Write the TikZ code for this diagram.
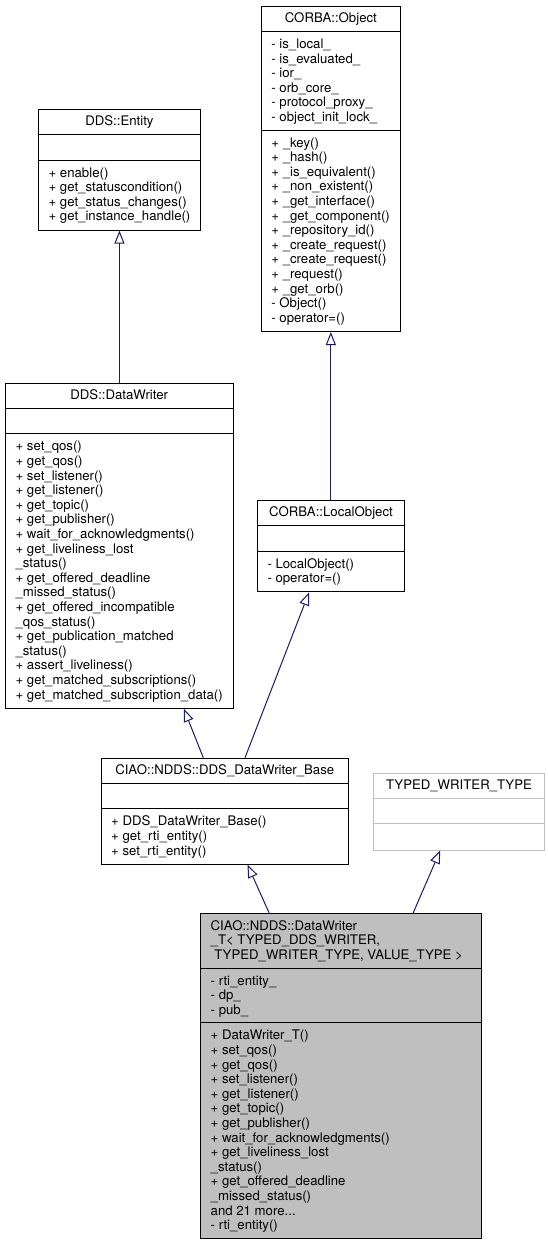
\documentclass[tikz,border=0pt]{standalone}
\usepackage{fontspec}
\setmainfont{TeX Gyre Heros}
\usetikzlibrary{arrows.meta,calc}
\definecolor{edgeblue}{HTML}{191970}
\definecolor{grey75}{HTML}{BFBFBF}
\tikzset{
	classbox/.style={draw, line width=1pt, inner sep=0pt, anchor=north west},
	classname/.style={anchor=base, inner sep=0pt},
	members/.style={anchor=north west, align=left, inner sep=0pt},
	fieldsep/.style={line width=1pt},
	inherit/.style={edgeblue, line width=1pt, -{Triangle[length=13pt,width=10pt,fill=white]}},
}
\newcommand{\fieldline}[3][black]{\draw[fieldsep, #1] ([yshift=-#3pt]#2.north west) -- ([yshift=-#3pt]#2.north east);}

\begin{document}
\begin{tikzpicture}[x=1pt, y=-1pt, font=\fontsize{13.2}{14.6}\selectfont]
		\useasboundingbox (0,0) rectangle (548,1245);

		% CORBA::Object
		\node[classbox, minimum width=139.3pt, minimum height=325pt] (obj) at (260.7,6) {};
		\fieldline{obj}{25.6}
		\fieldline{obj}{124.2}
		\node[classname] (obj-name) at ([yshift=-16.7pt]obj.north) {CORBA::Object};
		\node[members] (obj-attr) at ([xshift=10.5pt,yshift=-32.08pt]obj.north west)
			{\strut- is\_local\_\\- is\_evaluated\_\\- ior\_\\- orb\_core\_\\- protocol\_proxy\_\\- object\_init\_lock\_};
		\node[members] (obj-meth) at ([xshift=10.5pt,yshift=-130.68pt]obj.north west)
			{\strut+ \_key()\\+ \_hash()\\+ \_is\_equivalent()\\+ \_non\_existent()\\+ \_get\_interface()\\+ \_get\_component()\\+ \_repository\_id()\\+ \_create\_request()\\+ \_create\_request()\\+ \_request()\\+ \_get\_orb()\\- Object()\\- operator=()};

		% DDS::Entity
		\node[classbox, minimum width=162.1pt, minimum height=120.6pt] (ent) at (37.9,109) {};
		\fieldline{ent}{25.6}
		\fieldline{ent}{51.2}
		\node[classname] (ent-name) at ([yshift=-16.7pt]ent.north) {DDS::Entity};
		\node[members] (ent-meth) at ([xshift=10.5pt,yshift=-57.68pt]ent.north west)
			{\strut+ enable()\\+ get\_statuscondition()\\+ get\_status\_changes()\\+ get\_instance\_handle()};

		% DDS::DataWriter
		\node[classbox, minimum width=227.7pt, minimum height=325pt] (dw) at (4.9,382.7) {};
		\fieldline{dw}{25.6}
		\fieldline{dw}{51.2}
		\node[classname] (dw-name) at ([yshift=-16.7pt]dw.north) {DDS::DataWriter};
		\node[members] (dw-meth) at ([xshift=10.5pt,yshift=-57.68pt]dw.north west)
			{\strut+ set\_qos()\\+ get\_qos()\\+ set\_listener()\\+ get\_listener()\\+ get\_topic()\\+ get\_publisher()\\+ wait\_for\_acknowledgments()\\+ get\_liveliness\_lost\\\_status()\\+ get\_offered\_deadline\\\_missed\_status()\\+ get\_offered\_incompatible\\\_qos\_status()\\+ get\_publication\_matched\\\_status()\\+ assert\_liveliness()\\+ get\_matched\_subscriptions()\\+ get\_matched\_subscription\_data()};

		% CORBA::LocalObject
		\node[classbox, minimum width=147.4pt, minimum height=91.4pt] (lobj) at (256.8,500) {};
		\fieldline{lobj}{25.6}
		\fieldline{lobj}{51.2}
		\node[classname] (lobj-name) at ([yshift=-16.7pt]lobj.north) {CORBA::LocalObject};
		\node[members] (lobj-meth) at ([xshift=10.5pt,yshift=-57.68pt]lobj.north west)
			{\strut- LocalObject()\\- operator=()};

		% CIAO::NDDS::DDS_DataWriter_Base
		\node[classbox, minimum width=247.5pt, minimum height=106pt] (base) at (100.5,757.7) {};
		\fieldline{base}{25.6}
		\fieldline{base}{51.2}
		\node[classname] (base-name) at ([yshift=-16.7pt]base.north) {CIAO::NDDS::DDS\_DataWriter\_Base};
		\node[members] (base-meth) at ([xshift=10.5pt,yshift=-57.68pt]base.north west)
			{\strut+ DDS\_DataWriter\_Base()\\+ get\_rti\_entity()\\+ set\_rti\_entity()};

		% TYPED_WRITER_TYPE
		\node[classbox, draw=grey75, minimum width=171pt, minimum height=76.8pt] (twt) at (373,772.7) {};
		\fieldline[grey75]{twt}{25.6}
		\fieldline[grey75]{twt}{51.2}
		\node[classname] (twt-name) at ([yshift=-16.7pt]twt.north) {TYPED\_WRITER\_TYPE};

		% CIAO::NDDS::DataWriter_T
		\node[classbox, fill=grey75, minimum width=281pt, minimum height=325pt] (dwt) at (200,913.3) {};
		\fieldline{dwt}{54.8}
		\fieldline{dwt}{109.6}
		\node[members] (dwt-name) at ([xshift=10.5pt,yshift=-6.48pt]dwt.north west)
			{\strut CIAO::NDDS::DataWriter\\\_T< TYPED\_DDS\_WRITER,\\\hspace*{.28em}TYPED\_WRITER\_TYPE, VALUE\_TYPE >};
		\node[members] (dwt-attr) at ([xshift=10.5pt,yshift=-61.28pt]dwt.north west)
			{\strut- rti\_entity\_\\- dp\_\\- pub\_};
		\node[members] (dwt-meth) at ([xshift=10.5pt,yshift=-116.08pt]dwt.north west)
			{\strut+ DataWriter\_T()\\+ set\_qos()\\+ get\_qos()\\+ set\_listener()\\+ get\_listener()\\+ get\_topic()\\+ get\_publisher()\\+ wait\_for\_acknowledgments()\\+ get\_liveliness\_lost\\\_status()\\+ get\_offered\_deadline\\\_missed\_status()\\and 21 more...\\- rti\_entity()};

		% inheritance
		\draw[inherit] (ent.south |- dw.north) -- (ent.south);
		\draw[inherit] (obj.south |- lobj.north) -- (obj.south);
		\draw[inherit] ($(base.north west)+(102.8,0)$) -- ($(dw.south west)+(178.9,0)$);
		\draw[inherit] ($(base.north west)+(144.5,0)$) -- ($(lobj.south west)+(52.2,0)$);
		\draw[inherit] ($(dwt.north west)+(69.3,0)$) -- ($(base.south west)+(147,0)$);
		\draw[inherit] ($(dwt.north west)+(213,0)$) -- ($(twt.south west)+(67.2,0)$);
\end{tikzpicture}
\end{document}
